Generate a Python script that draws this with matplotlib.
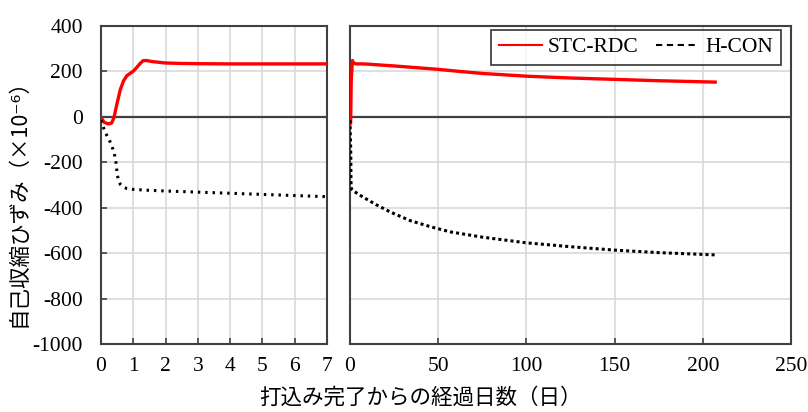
import matplotlib
matplotlib.use("Agg")
import matplotlib.pyplot as plt
from matplotlib.lines import Line2D

# elapsed days after placing and autogenous shrinkage strain (x10^-6)
stc_days = [0, 0.1, 0.23, 0.33, 0.4, 0.5, 0.6, 0.7, 0.8, 0.9, 1.0, 1.1, 1.2, 1.3,
            1.4, 1.6, 2.0, 2.5, 3, 4, 5, 6, 7, 10, 25, 50, 62, 75, 100, 125, 150,
            175, 207]
stc_strain = [-5, -25, -32, -28, -5, 60, 120, 158, 180, 190, 200, 215, 232, 246,
              247, 242, 236, 234, 233, 232, 232, 232, 232, 231, 223, 208, 199, 190,
              178, 170, 164, 158, 152]

hcon_days = [0, 0.12, 0.28, 0.4, 0.46, 0.5, 0.54, 0.6, 0.7, 0.8, 1.0, 1.5, 2, 3,
             4, 5, 6, 7, 15, 23, 34, 46, 57, 75, 100, 125, 150, 175, 207]
hcon_strain = [-15, -66, -110, -154, -198, -250, -280, -298, -310, -316, -320, -324,
               -327, -332, -337, -342, -347, -352, -388, -420, -457, -485, -507,
               -530, -555, -572, -587, -598, -608]

left_ticks = [0, 1, 2, 3, 4, 5, 6, 7]
right_ticks = [0, 50, 100, 150, 200, 250]
y_ticks = [-1000, -800, -600, -400, -200, 0, 200, 400]

plt.rcParams["axes.unicode_minus"] = False
serif = "Liberation Serif"
jp = ["Noto Sans CJK JP", "DejaVu Sans"]
spine_col = "#404040"
grid_col = "#d9d9d9"

fig = plt.figure(figsize=(8.08, 4.12), dpi=100)
ax1 = fig.add_axes([0.125, 0.165, 0.2797, 0.7726])
ax2 = fig.add_axes([0.4332, 0.165, 0.5458, 0.7726])

for ax, xmax, ticks, dots in [(ax1, 7, left_ticks, (0, (0.8, 1.6))),
                              (ax2, 250, right_ticks, (0, (1.0, 1.0)))]:
    ax.set_xlim(0, xmax)
    ax.set_ylim(-1000, 400)
    ax.set_xticks(ticks)
    ax.set_yticks(y_ticks)
    ax.grid(True, color=grid_col, linewidth=1.2)
    ax.set_axisbelow(True)
    ax.axhline(0, color=spine_col, linewidth=1.6, zorder=2)
    ax.plot(stc_days, stc_strain, color="#ff0000", linewidth=2.4, zorder=3)
    ax.plot(hcon_days, hcon_strain, color="black", linewidth=2.2, zorder=3,
            linestyle=dots, dash_capstyle="butt")
    for s in ax.spines.values():
        s.set_color(spine_col)
        s.set_linewidth(1.5)
    ax.tick_params(direction="in", length=4, width=1.2, color=spine_col,
                   labelsize=15.5, pad=9)
    for lab in ax.get_xticklabels() + ax.get_yticklabels():
        lab.set_fontfamily(serif)

ax1.tick_params(axis="y", pad=13)
ax2.tick_params(axis="y", left=False, labelleft=False)

handles = [Line2D([], [], color="#ff0000", linewidth=1.5),
           Line2D([], [], color="black", linewidth=1.5, linestyle=(0, (3, 2.2)))]
leg = ax2.legend(handles, ["STC-RDC", "H-CON"], ncol=2, loc="upper right",
                 bbox_to_anchor=(0.977, 0.988), frameon=True, fancybox=False,
                 prop={"family": serif, "size": 15.5}, handlelength=2.0,
                 columnspacing=0.8, handletextpad=0.3, borderpad=0.35,
                 borderaxespad=0)
leg.get_frame().set_edgecolor("black")
leg.get_frame().set_linewidth(1.2)

fig.text(0.023, 0.52, "自己収縮ひずみ（×10⁻⁶）", rotation=90, ha="center",
         va="center", family=jp, fontsize=15.5)
fig.text(0.52, 0.035, "打込み完了からの経過日数（日）", ha="center", va="center",
         family=jp, fontsize=15.5)

fig.savefig("out.png", dpi=100)
